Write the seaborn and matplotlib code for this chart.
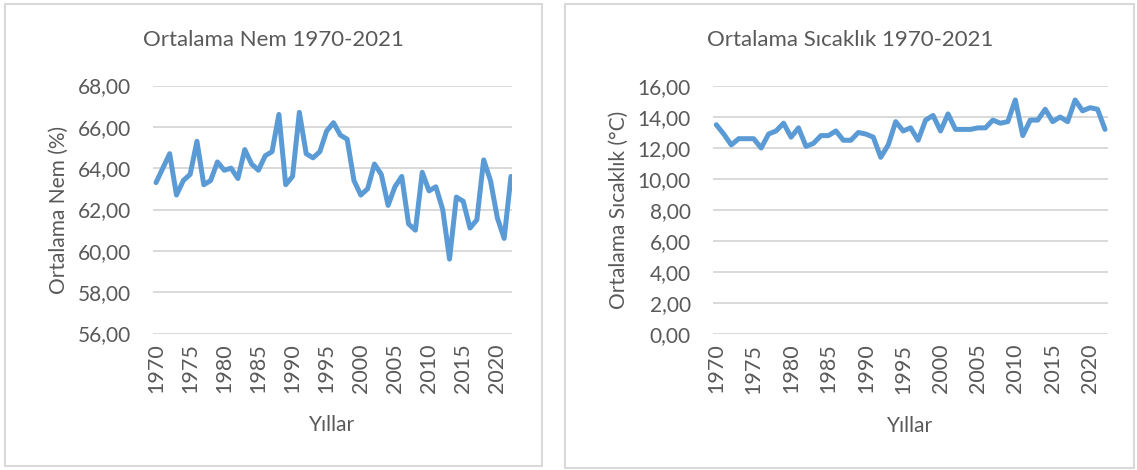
import numpy as np
import pandas as pd
import matplotlib
matplotlib.use('Agg')
import matplotlib.pyplot as plt
from matplotlib.patches import Rectangle
from matplotlib.ticker import FuncFormatter
import seaborn as sns

# ── DATA ──────────────────────────────────────────────────────
years = list(range(1970, 2023))

humidity = [63.3, 64.0, 64.7, 62.7, 63.4, 63.7, 65.3, 63.2, 63.4, 64.3,
            63.9, 64.0, 63.5, 64.9, 64.2, 63.9, 64.6, 64.8, 66.6, 63.2,
            63.6, 66.7, 64.7, 64.5, 64.8, 65.8, 66.2, 65.6, 65.4, 63.4,
            62.7, 63.0, 64.2, 63.7, 62.2, 63.1, 63.6, 61.3, 61.0, 63.8,
            62.9, 63.1, 62.0, 59.6, 62.6, 62.4, 61.1, 61.5, 64.4, 63.4,
            61.6, 60.6, 63.6]

temperature = [13.5, 12.9, 12.2, 12.6, 12.6, 12.6, 12.0, 12.9, 13.1, 13.6,
               12.7, 13.3, 12.1, 12.3, 12.8, 12.8, 13.1, 12.5, 12.5, 13.0,
               12.9, 12.7, 11.4, 12.2, 13.7, 13.1, 13.3, 12.5, 13.8, 14.1,
               13.1, 14.2, 13.2, 13.2, 13.2, 13.3, 13.3, 13.8, 13.6, 13.7,
               15.1, 12.8, 13.8, 13.8, 14.5, 13.7, 14.0, 13.7, 15.1, 14.4,
               14.6, 14.5, 13.2]

year_ticks = list(range(1970, 2021, 5))

# ── STYLE ─────────────────────────────────────────────────────
sns.set_style('white')
plt.rcParams['font.family'] = ['Lato', 'DejaVu Sans']

TEXT = '#595959'
GRID = '#D9D9D9'
LINE = '#5B9BD5'

df = pd.DataFrame({'Yil': years, 'Nem': humidity, 'Sicaklik': temperature})

fig = plt.figure(figsize=(11.37, 4.70), dpi=100)

# panel frames (Excel chart areas)
fig.patches.append(Rectangle((5 / 1137, 1 - 466 / 470), 537 / 1137, 462 / 470,
                             transform=fig.transFigure, fill=False,
                             edgecolor=GRID, linewidth=1.5))
fig.patches.append(Rectangle((565 / 1137, 1 - 468 / 470), 569 / 1137, 464 / 470,
                             transform=fig.transFigure, fill=False,
                             edgecolor=GRID, linewidth=1.5))

ax1 = fig.add_axes([153 / 1137, 1 - 333.5 / 470, 359 / 1137, 248 / 470])
ax2 = fig.add_axes([713 / 1137, 1 - 334 / 470, 395 / 1137, 248 / 470])

comma = FuncFormatter(lambda v, _: f'{v:.2f}'.replace('.', ','))

panels = [
    (ax1, 'Nem', 'Ortalama Nem 1970-2021', 'Ortalama Nem (%)',
     (56, 68), np.arange(56, 69, 2), (1969.56, 2022.15), 273.5),
    (ax2, 'Sicaklik', 'Ortalama Sıcaklık 1970-2021', 'Ortalama Sıcaklık (°C)',
     (0, 16), np.arange(0, 17, 2), (1969.56, 2022.4), 850),
]

for ax, col, title, ylabel, ylim, yticks, xlim, tx in panels:
    sns.lineplot(data=df, x='Yil', y=col, ax=ax, color=LINE,
                 linewidth=3.6, solid_joinstyle='round')
    ax.set_ylim(*ylim)
    ax.set_yticks(yticks)
    ax.yaxis.set_major_formatter(comma)
    ax.set_xlim(*xlim)
    ax.set_xticks(year_ticks)
    ax.set_xticklabels([str(y) for y in year_ticks], rotation=90)
    ax.grid(axis='y', color=GRID, linewidth=1.4)
    ax.set_axisbelow(True)
    for s in ax.spines.values():
        s.set_visible(False)
    ax.tick_params(axis='y', length=0, labelsize=15, labelcolor=TEXT, pad=16)
    ax.tick_params(axis='x', length=0, labelsize=15.5, labelcolor=TEXT, pad=7)
    ax.set_ylabel(ylabel, fontsize=15, color=TEXT, labelpad=6)
    ax.set_xlabel('Yıllar', fontsize=15, color=TEXT, labelpad=16)
    fig.text(tx / 1137, 1 - 40 / 470, title, fontsize=16, color=TEXT,
             ha='center', va='center')

fig.savefig('out.png', dpi=100)
